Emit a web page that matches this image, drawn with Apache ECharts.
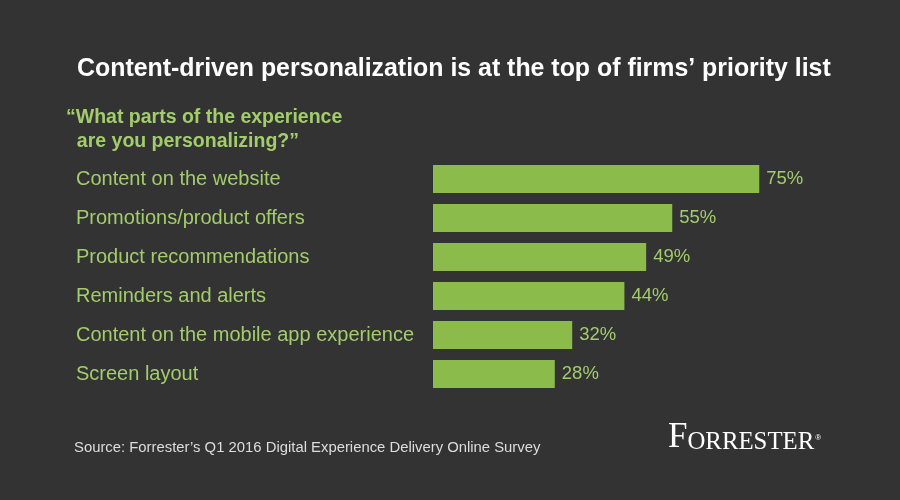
<!DOCTYPE html>
<html>
<head>
<meta charset="utf-8">
<script src="https://cdn.jsdelivr.net/npm/echarts@6/dist/echarts.min.js"></script>
<style>html,body{margin:0;padding:0;background:#333333;}#c{width:900px;height:500px;}</style>
</head>
<body>
<div id="c"></div>
<script>
const categories = [
  "Content on the website",
  "Promotions/product offers",
  "Product recommendations",
  "Reminders and alerts",
  "Content on the mobile app experience",
  "Screen layout"
];
const values = [75, 55, 49, 44, 32, 28];

const chart = echarts.init(document.getElementById('c'));
const green = '#a3cd6b';
chart.setOption({
  backgroundColor: '#333333',
  animation: false,
  title: [
    {
      text: 'Content-driven personalization is at the top of firms\u2019 priority list',
      left: 77, top: 57, padding: 0,
      textStyle: { color: '#ffffff', fontFamily: 'Liberation Sans', fontWeight: 'bold', fontSize: 24.9 }
    },
    {
      text: '\u201cWhat parts of the experience\n  are you personalizing?\u201d',
      left: 66, top: 106, padding: 0,
      textStyle: { color: green, fontFamily: 'Liberation Sans', fontWeight: 'bold', fontSize: 19.5, lineHeight: 24 }
    },
    {
      text: 'Source: Forrester\u2019s Q1 2016 Digital Experience Delivery Online Survey',
      left: 74, top: 440, padding: 0,
      textStyle: { color: '#dddddd', fontFamily: 'Liberation Sans', fontWeight: 'normal', fontSize: 14.85 }
    },
    {
      text: '{a|F}{b|ORRESTER}{c|\u00ae}',
      left: 668, top: 420, padding: 0,
      textStyle: {
        color: '#ffffff', fontWeight: 'normal',
        rich: {
          a: { fontFamily: 'Liberation Serif', fontWeight: 'normal', fontSize: 35, color: '#ffffff', verticalAlign: 'bottom' },
          b: { fontFamily: 'Liberation Serif', fontWeight: 'normal', fontSize: 24.8, color: '#ffffff', verticalAlign: 'bottom' },
          c: { fontFamily: 'Liberation Sans', fontWeight: 'normal', fontSize: 8, color: '#ffffff', verticalAlign: 'bottom', padding: [0, 0, 13, 1] }
        }
      }
    }
  ],
  grid: { left: 433, right: 32, top: 159.5, bottom: 106.5 },
  xAxis: {
    type: 'value', min: 0, max: 100,
    show: false
  },
  yAxis: {
    type: 'category', data: categories, inverse: true,
    axisLine: { show: false }, axisTick: { show: false },
    axisLabel: {
      align: 'left', margin: 357,
      color: green, fontFamily: 'Liberation Sans', fontSize: 20
    }
  },
  series: [{
    type: 'bar', data: values, barWidth: 28,
    itemStyle: { color: '#8bbc4b' },
    label: {
      show: true, position: 'right', distance: 7,
      formatter: '{c}%',
      color: green, fontFamily: 'Liberation Sans', fontSize: 18.5
    }
  }]
});
</script>
</body>
</html>
